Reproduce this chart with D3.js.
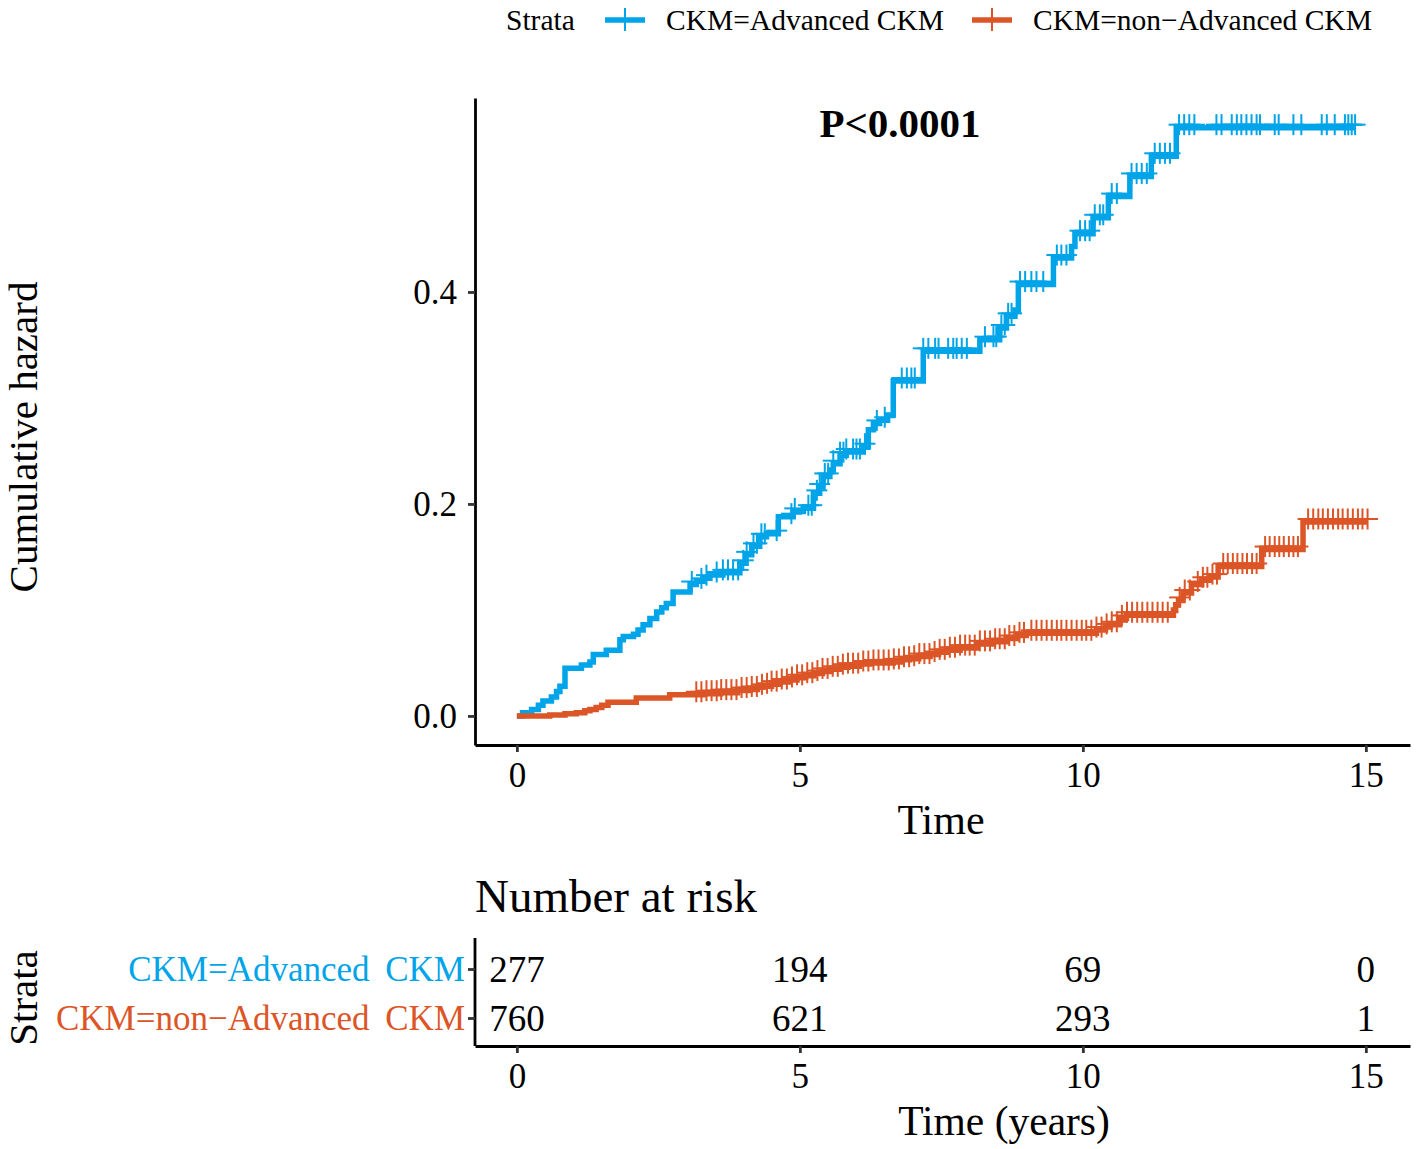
<!DOCTYPE html>
<html>
<head>
<meta charset="utf-8">
<script src="https://cdn.jsdelivr.net/npm/d3@7"></script>
<style>
  body { margin: 0; background: #fff; }
  svg { font-family: "Liberation Serif", "Times New Roman", serif; }
</style>
</head>
<body>
<div id="chart"></div>
<script>
// strata
let strata = ["CKM=Advanced CKM", "CKM=non\u2212Advanced CKM"];
let colors = ["#00A4E8", "#DC5527"];

// cumulative hazard steps: [time, cumhaz after the event]
let advSteps = [
  [0, 0], [0.10, 0.003], [0.26, 0.006], [0.38, 0.010], [0.46, 0.014], [0.61, 0.018],
  [0.70, 0.023], [0.76, 0.028], [0.85, 0.045], [1.14, 0.048], [1.29, 0.051], [1.35, 0.058],
  [1.58, 0.062], [1.82, 0.072], [1.88, 0.075], [2.06, 0.077], [2.14, 0.081], [2.23, 0.086],
  [2.35, 0.092], [2.47, 0.098], [2.56, 0.102], [2.64, 0.106], [2.76, 0.117], [3.06, 0.124],
  [3.17, 0.127], [3.29, 0.130], [3.41, 0.133], [3.64, 0.135], [3.94, 0.144], [4.05, 0.152],
  [4.15, 0.160], [4.29, 0.169], [4.41, 0.172], [4.62, 0.188], [4.88, 0.193], [5.06, 0.196],
  [5.24, 0.210], [5.35, 0.216], [5.41, 0.226], [5.53, 0.232], [5.59, 0.238], [5.71, 0.246],
  [5.82, 0.249], [6.12, 0.254], [6.21, 0.270], [6.30, 0.276], [6.41, 0.279], [6.55, 0.284],
  [6.65, 0.316], [7.18, 0.344], [8.18, 0.355], [8.53, 0.366], [8.65, 0.377], [8.80, 0.383],
  [8.86, 0.407], [9.48, 0.432], [9.80, 0.443], [9.86, 0.455], [10.18, 0.470], [10.45, 0.490],
  [10.83, 0.509], [11.21, 0.528], [11.65, 0.555]
];
let advEnd = 14.81;
let advCensor = [
  3.09, 3.26, 3.35, 3.53, 3.64, 3.73, 3.82, 3.91, 4.00, 4.06, 4.18, 4.24, 4.32, 4.38, 4.59,
  4.85, 4.91, 5.15, 5.21, 5.30, 5.35, 5.44, 5.50, 5.59, 5.71, 5.77, 5.82, 5.94, 6.00, 6.06,
  6.15, 6.36, 6.50, 6.80, 6.89, 6.97, 7.03, 7.18, 7.27, 7.39, 7.45, 7.62, 7.71, 7.77, 7.86,
  7.95, 8.27, 8.42, 8.47, 8.56, 8.62, 8.68, 8.74, 8.89, 8.98, 9.09, 9.18, 9.30, 9.54, 9.62,
  9.71, 9.95, 10.04, 10.12, 10.21, 10.30, 10.36, 10.51, 10.60, 10.86, 10.95, 11.04, 11.13,
  11.27, 11.36, 11.45, 11.54, 11.70, 11.79, 11.88, 11.97, 12.36, 12.45, 12.63, 12.72, 12.80,
  12.89, 12.98, 13.07, 13.13, 13.39, 13.46, 13.72, 13.86, 14.22, 14.31, 14.45, 14.63, 14.69,
  14.75, 14.81
];

let nonSteps = [
  [0, 0], [0.58, 0.001], [0.85, 0.002], [1.05, 0.003], [1.20, 0.005], [1.29, 0.006],
  [1.40, 0.008], [1.50, 0.010], [1.61, 0.013], [2.11, 0.017], [2.70, 0.020], [3.30, 0.021],
  [3.60, 0.022], [3.90, 0.024], [4.12, 0.025], [4.25, 0.027], [4.35, 0.028], [4.50, 0.030],
  [4.65, 0.032], [4.80, 0.034], [4.95, 0.036], [5.10, 0.038], [5.25, 0.040], [5.40, 0.042],
  [5.55, 0.044], [5.70, 0.046], [5.85, 0.047], [6.05, 0.049], [6.24, 0.050], [6.65, 0.051],
  [6.80, 0.053], [6.94, 0.054], [7.10, 0.056], [7.30, 0.058], [7.45, 0.060], [7.59, 0.062],
  [7.83, 0.064], [8.12, 0.068], [8.42, 0.070], [8.65, 0.073], [8.83, 0.076], [9.00, 0.078],
  [10.24, 0.081], [10.40, 0.084], [10.48, 0.086], [10.65, 0.092], [10.77, 0.095], [11.60, 0.100],
  [11.64, 0.105], [11.69, 0.109], [11.77, 0.116], [11.92, 0.124], [12.10, 0.128], [12.24, 0.131],
  [12.39, 0.141], [13.16, 0.157], [13.89, 0.183]
];
let nonEnd = 15.03;
let nonCensor = [
  3.17, 3.26, 3.35, 3.44, 3.53, 3.61, 3.70, 3.79, 3.88, 3.97, 4.06, 4.15, 4.24, 4.33, 4.42,
  4.50, 4.59, 4.68, 4.77, 4.86, 4.95, 5.04, 5.13, 5.22, 5.31, 5.40, 5.49, 5.58, 5.67, 5.76,
  5.85, 5.94, 6.03, 6.12, 6.21, 6.30, 6.39, 6.48, 6.57, 6.66, 6.75, 6.84, 6.93, 7.02, 7.11,
  7.20, 7.29, 7.38, 7.47, 7.56, 7.65, 7.74, 7.83, 7.92, 8.00, 8.09, 8.18, 8.27, 8.36, 8.45,
  8.53, 8.62, 8.70, 8.79, 8.88, 8.96, 9.09, 9.18, 9.27, 9.36, 9.45, 9.54, 9.62, 9.71, 9.80,
  9.89, 9.98, 10.06, 10.15, 10.24, 10.33, 10.42, 10.51, 10.60, 10.69, 10.78, 10.87, 10.96,
  11.05, 11.14, 11.23, 11.32, 11.41, 11.50, 11.71, 11.80, 11.89, 12.03, 12.12, 12.20, 12.29,
  12.37, 12.48, 12.56, 12.65, 12.73, 12.82, 12.90, 12.99, 13.07, 13.22, 13.30, 13.39, 13.47,
  13.55, 13.64, 13.72, 13.80, 13.98, 14.07, 14.16, 14.24, 14.33, 14.42, 14.51, 14.59, 14.68,
  14.77, 14.86, 14.94, 15.03
];

// number at risk
let riskTimes = [0, 5, 10, 15];
let riskAdv = [277, 194, 69, 0];
let riskNon = [760, 621, 293, 1];

let xTicks = [0, 5, 10, 15];
let yTicks = [0.0, 0.2, 0.4];

let width = 1418;
let height = 1149;

let svg = d3.select("#chart")
            .append("svg")
            .attr("width", width)
            .attr("height", height);

let xScale = d3.scaleLinear().domain([-0.74, 15.78]).range([475, 1410]);
let yScale = d3.scaleLinear().domain([-0.0274, 0.583]).range([745, 98]);

function stepValue(steps, t) {
  let v = 0;
  steps.forEach(s => { if (s[0] <= t) v = s[1]; });
  return v;
}

let groups = [
  { steps: advSteps, end: advEnd, censor: advCensor, color: colors[0] },
  { steps: nonSteps, end: nonEnd, censor: nonCensor, color: colors[1] }
];

// axes
let xAxis = d3.axisBottom(xScale).tickValues(xTicks).tickSize(7).tickSizeOuter(0).tickPadding(10);
let yAxis = d3.axisLeft(yScale).tickValues(yTicks).tickSize(7).tickSizeOuter(0).tickPadding(11)
              .tickFormat(d3.format(".1f"));

function styleAxis(g) {
  g.selectAll("path").attr("stroke", "#000").attr("stroke-width", 2.8);
  g.selectAll("line").attr("stroke", "#333").attr("stroke-width", 2.8);
  g.selectAll("text").attr("fill", "#000").style("font-size", "35px")
   .style("font-family", "Liberation Serif");
}

svg.append("g")
   .attr("transform", "translate(0, 745)")
   .call(xAxis)
   .call(styleAxis);

svg.append("g")
   .attr("transform", "translate(475, 0)")
   .call(yAxis)
   .call(styleAxis);

// curves
let line = d3.line()
             .x(d => xScale(d[0]))
             .y(d => yScale(d[1]))
             .curve(d3.curveStepAfter);

groups.forEach(g => {
  let pts = g.steps.concat([[g.end, g.steps[g.steps.length - 1][1]]]);
  svg.append("path")
     .datum(pts)
     .attr("fill", "none")
     .attr("stroke", g.color)
     .attr("stroke-width", 5.5)
     .attr("d", line);

  let marks = svg.append("g");
  g.censor.forEach(t => {
    let cx = xScale(t);
    let cy = yScale(stepValue(g.steps, t)) - 3;
    marks.append("line")
         .attr("x1", cx).attr("x2", cx)
         .attr("y1", cy - 10.5).attr("y2", cy + 10.5)
         .attr("stroke", g.color).attr("stroke-width", 2);
    marks.append("line")
         .attr("x1", cx - 10.5).attr("x2", cx + 10.5)
         .attr("y1", cy).attr("y2", cy)
         .attr("stroke", g.color).attr("stroke-width", 2);
  });
});

// p value
svg.append("text")
   .attr("x", 900).attr("y", 137)
   .attr("text-anchor", "middle")
   .style("font-size", "41px").style("font-weight", "bold")
   .text("P<0.0001");

// axis titles
svg.append("text")
   .attr("x", 941).attr("y", 834)
   .attr("text-anchor", "middle")
   .style("font-size", "42px")
   .text("Time");

svg.append("text")
   .attr("transform", "translate(37, 437) rotate(-90)")
   .attr("text-anchor", "middle")
   .style("font-size", "41px")
   .text("Cumulative hazard");

// legend
let legend = svg.append("g");
legend.append("text")
      .attr("x", 506).attr("y", 30)
      .style("font-size", "29.5px")
      .text("Strata");

let legendPos = [[605, 666], [972, 1033]];
strata.forEach((s, i) => {
  let kx = legendPos[i][0];
  legend.append("line")
        .attr("x1", kx).attr("x2", kx + 40)
        .attr("y1", 20).attr("y2", 20)
        .attr("stroke", colors[i]).attr("stroke-width", 5.5);
  legend.append("line")
        .attr("x1", kx + 20).attr("x2", kx + 20)
        .attr("y1", 8).attr("y2", 31)
        .attr("stroke", colors[i]).attr("stroke-width", 2);
  legend.append("text")
        .attr("x", legendPos[i][1]).attr("y", 30)
        .style("font-size", "29.5px")
        .text(s);
});

// risk table
svg.append("text")
   .attr("x", 475).attr("y", 912)
   .style("font-size", "47px")
   .text("Number at risk");

let rowScale = d3.scalePoint().domain(strata).range([969, 1018]);

let riskX = d3.axisBottom(xScale).tickValues(xTicks).tickSize(7).tickSizeOuter(0).tickPadding(10);
svg.append("g")
   .attr("transform", "translate(0, 1046)")
   .call(riskX)
   .call(styleAxis);

let rowAxis = d3.axisLeft(rowScale).tickSize(7).tickSizeOuter(0).tickPadding(3);
let rowG = svg.append("g")
   .attr("transform", "translate(475, 0)")
   .call(rowAxis)
   .call(styleAxis);
rowG.select("path").attr("d", "M0,938V1046");
rowG.selectAll(".tick text")
    .style("font-size", "35px")
    .attr("fill", (d, i) => colors[i])
    .style("word-spacing", "7px");

[riskAdv, riskNon].forEach((vals, i) => {
  svg.append("g")
     .selectAll("text")
     .data(vals)
     .enter()
     .append("text")
     .attr("x", (d, j) => xScale(riskTimes[j]))
     .attr("y", rowScale(strata[i]))
     .attr("dy", "0.35em")
     .attr("text-anchor", "middle")
     .style("font-size", "37px")
     .text(d => d);
});

svg.append("text")
   .attr("x", 1004).attr("y", 1135)
   .attr("text-anchor", "middle")
   .style("font-size", "41.5px")
   .text("Time (years)");

svg.append("text")
   .attr("transform", "translate(37, 998) rotate(-90)")
   .attr("text-anchor", "middle")
   .style("font-size", "41px")
   .text("Strata");
</script>
</body>
</html>
